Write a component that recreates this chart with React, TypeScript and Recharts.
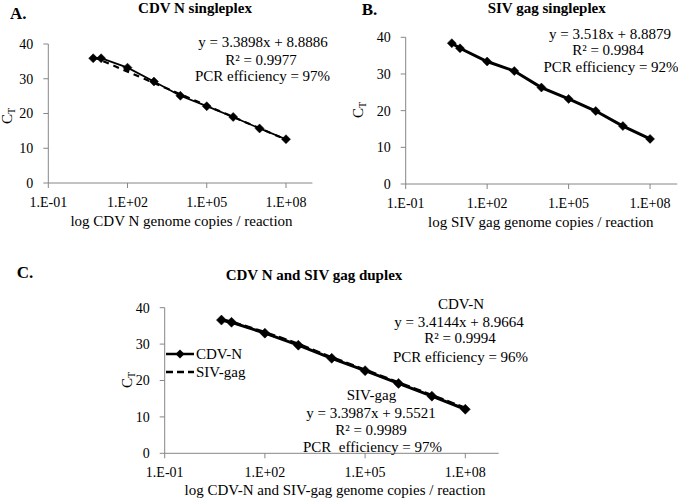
import React from 'react';
import { LineChart, Line, XAxis, YAxis, Legend } from 'recharts';

// ---- data ----
const copies = [5, 10, 100, 1e3, 1e4, 1e5, 1e6, 1e7, 1e8];
const cdvSingleplex = [35.9, 35.9, 33.2, 29.2, 25.1, 22.1, 19.0, 15.7, 12.6];
const cdvSingleplexTrend = [36.3, null, null, null, null, null, null, null, 12.5];
const sivSingleplex = [38.4, 37.0, 33.4, 30.8, 26.3, 23.2, 19.9, 15.8, 12.3];
const cdvDuplex = [36.6, 36.0, 33.0, 29.7, 26.1, 22.7, 19.2, 15.7, 12.1];
const sivDuplex = [36.7, 36.1, 33.2, 30.0, 26.3, 22.9, 19.4, 15.9, 12.4];

const xTicks = [0.1, 100, 1e5, 1e8];
const xTickLabels = ['1.E-01', '1.E+02', '1.E+05', '1.E+08'];
const yTicks = [0, 10, 20, 30, 40];

const dataA = copies.map((x, i) => ({ x, cdv: cdvSingleplex[i], trend: cdvSingleplexTrend[i] }));
const dataB = copies.map((x, i) => ({ x, siv: sivSingleplex[i] }));
const dataC = copies.map((x, i) => ({ x, cdv: cdvDuplex[i], siv: sivDuplex[i] }));

const FONT = "'Liberation Serif', 'Times New Roman', Times, serif";
const AXIS = '#868686';
const W = 678;
const H = 498;

const fmtTick = (v: number) => {
  const i = xTicks.findIndex((t) => Math.abs(Math.log10(t) - Math.log10(v)) < 1e-6);
  return i >= 0 ? xTickLabels[i] : '';
};

const diamond = (r: number) => (props: any) => {
  const { cx, cy, index } = props;
  if (cx == null || cy == null || isNaN(cx) || isNaN(cy)) return <g key={`d${index}`} />;
  return (
    <path
      key={`d${index}`}
      d={`M${cx},${cy - r}L${cx + r},${cy}L${cx},${cy + r}L${cx - r},${cy}Z`}
      fill="#000"
      stroke="#000"
      strokeWidth={0.5}
    />
  );
};

type Plot = { left: number; right: number; top: number; bottom: number };

const tickStyle = { fill: '#000', fontSize: 14, fontFamily: FONT, style: { fontFamily: FONT } };

function Panel({ plot, data, children }: { plot: Plot; data: any[]; children: React.ReactNode }) {
  const xAxisH = 30;
  const yAxisW = 40;
  const margin = {
    left: plot.left - yAxisW,
    right: W - plot.right,
    top: plot.top,
    bottom: H - plot.bottom - xAxisH,
  };
  return (
    <div style={{ position: 'absolute', left: 0, top: 0, width: W, height: H, fontFamily: FONT }}>
      <LineChart width={W} height={H} data={data} margin={margin} style={{ fontFamily: FONT }}>
        <XAxis
          dataKey="x"
          type="number"
          scale="log"
          domain={[0.1, 1e9]}
          allowDataOverflow
          ticks={xTicks}
          interval={0}
          tickFormatter={fmtTick}
          height={xAxisH}
          stroke={AXIS}
          tickSize={5}
          tickMargin={9}
          tick={tickStyle}
        />
        <YAxis
          type="number"
          domain={[0, 40]}
          ticks={yTicks}
          interval={0}
          width={yAxisW}
          stroke={AXIS}
          tickSize={5}
          tickMargin={10}
          tick={tickStyle}
        />
        {children}
      </LineChart>
    </div>
  );
}

const renderLegend = () => (
  <svg width={100} height={40} style={{ display: 'block', overflow: 'visible', fontFamily: FONT }}>
    <line x1={0} y1={9} x2={28} y2={9} stroke="#000" strokeWidth={2.5} />
    <path d="M14,4.5L18.5,9L14,13.5L9.5,9Z" fill="#000" />
    <text x={30} y={14} fontSize={15} fontFamily={FONT} fill="#000">CDV-N</text>
    <line x1={0} y1={27} x2={28} y2={27} stroke="#000" strokeWidth={2.5} strokeDasharray="7 4" />
    <text x={30} y={32} fontSize={15} fontFamily={FONT} fill="#000">SIV-gag</text>
  </svg>
);

function CtLabel({ x, y }: { x: number; y: number }) {
  return (
    <text
      x={x}
      y={y}
      fontSize={15}
      fontFamily={FONT}
      fill="#000"
      textAnchor="middle"
      transform={`rotate(-90, ${x}, ${y})`}
    >
      C<tspan fontSize={10} dy={3}>T</tspan>
    </text>
  );
}

export default function App() {
  const tStyle: React.CSSProperties = { whiteSpace: 'pre' };
  return (
    <div style={{ position: 'absolute', left: 0, top: 0, width: W, height: H, background: '#fff', overflow: 'hidden', fontFamily: FONT }}>
      <Panel plot={{ left: 48.3, right: 312.4, top: 44, bottom: 183 }} data={dataA}>
        <Line dataKey="cdv" stroke="#000" strokeWidth={1.8} dot={diamond(4.5)} isAnimationActive={false} />
        <Line dataKey="trend" stroke="#000" strokeWidth={2.2} strokeDasharray="6 5" dot={false} connectNulls isAnimationActive={false} />
      </Panel>
      <Panel plot={{ left: 405.7, right: 677.2, top: 37.3, bottom: 184 }} data={dataB}>
        <Line dataKey="siv" stroke="#000" strokeWidth={3} dot={diamond(4.5)} isAnimationActive={false} />
      </Panel>
      <Panel plot={{ left: 164.7, right: 498.7, top: 307.7, bottom: 453.3 }} data={dataC}>
        <Line name="CDV-N" dataKey="cdv" stroke="#000" strokeWidth={3} dot={diamond(5)} isAnimationActive={false} />
        <Line name="SIV-gag" dataKey="siv" stroke="#000" strokeWidth={3} strokeDasharray="8 4" dot={false} isAnimationActive={false} />
        <Legend
          layout="vertical"
          align="center"
          verticalAlign="middle"
          content={renderLegend}
          wrapperStyle={{ left: 166, top: 345, width: 100, height: 40 }}
        />
      </Panel>
      <svg width={W} height={H} style={{ position: 'absolute', left: 0, top: 0, pointerEvents: 'none', fontFamily: FONT }}>
        <g fontFamily={FONT} fill="#000">
          {/* Panel A */}
          <text x={10} y={19} fontSize={17} fontWeight="bold">A.</text>
          <text x={195} y={13} fontSize={15} fontWeight="bold" textAnchor="middle">CDV N singleplex</text>
          <text x={263} y={47} fontSize={15} textAnchor="middle" style={tStyle}>y = 3.3898x + 8.8886</text>
          <text x={261} y={65} fontSize={15} textAnchor="middle">R² = 0.9977</text>
          <text x={262.5} y={81} fontSize={15} textAnchor="middle">PCR efficiency = 97%</text>
          <text x={181.5} y={226} fontSize={15} textAnchor="middle">log CDV N genome copies / reaction</text>
          <CtLabel x={12} y={116} />
          {/* Panel B */}
          <text x={361.7} y={15} fontSize={17} fontWeight="bold">B.</text>
          <text x={546.7} y={13} fontSize={15} fontWeight="bold" textAnchor="middle">SIV gag singleplex</text>
          <text x={610} y={38.5} fontSize={15} textAnchor="middle">y = 3.518x + 8.8879</text>
          <text x={608} y={55} fontSize={15} textAnchor="middle">R² = 0.9984</text>
          <text x={611} y={72} fontSize={15} textAnchor="middle">PCR efficiency = 92%</text>
          <text x={540.8} y={227} fontSize={15} textAnchor="middle">log SIV gag genome copies / reaction</text>
          <CtLabel x={363} y={110} />
          {/* Panel C */}
          <text x={16.7} y={278} fontSize={17} fontWeight="bold">C.</text>
          <text x={314} y={280} fontSize={15} fontWeight="bold" textAnchor="middle">CDV N and SIV gag duplex</text>
          <text x={461} y={309} fontSize={15} textAnchor="middle">CDV-N</text>
          <text x={459} y={327} fontSize={15} textAnchor="middle" style={tStyle}>y = 3.4144x + 8.9664</text>
          <text x={460} y={343} fontSize={15} textAnchor="middle">R² = 0.9994</text>
          <text x={460.5} y={362} fontSize={15} textAnchor="middle">PCR efficiency = 96%</text>
          <text x={371.5} y={400} fontSize={15} textAnchor="middle">SIV-gag</text>
          <text x={371} y={418} fontSize={15} textAnchor="middle" style={tStyle}>y = 3.3987x + 9.5521</text>
          <text x={371} y={435} fontSize={15} textAnchor="middle">R² = 0.9989</text>
          <text x={372.5} y={452} fontSize={15} textAnchor="middle" style={tStyle}>PCR  efficiency = 97%</text>
          <text x={335} y={494.5} fontSize={15} textAnchor="middle">log CDV-N and SIV-gag genome copies / reaction</text>
          <CtLabel x={132} y={380} />
        </g>
      </svg>
    </div>
  );
}
